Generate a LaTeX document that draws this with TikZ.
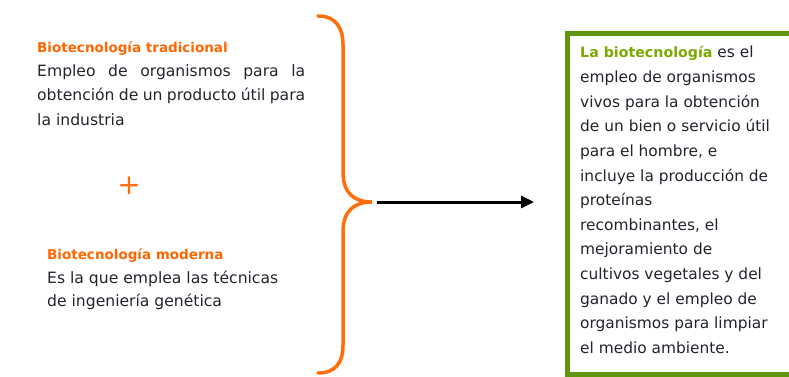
\documentclass[tikz,border=0pt]{standalone}
\usepackage{fontspec}
\setmainfont{DejaVu Sans}
\usetikzlibrary{arrows.meta}
\definecolor{orangeT}{RGB}{255,102,0}
\definecolor{orangeB}{RGB}{255,110,10}
\definecolor{greenB}{RGB}{98,150,10}
\definecolor{greenT}{RGB}{120,170,0}
\definecolor{bodyT}{RGB}{35,35,45}
\tikzset{
  x=1pt,y=-1pt,
  txt/.style={anchor=base west,inner sep=0pt,text=bodyT,font=\fontsize{15.6}{18}\selectfont},
  rtxt/.style={txt,font=\fontsize{15.4}{18}\selectfont},
  ttl/.style={txt,text=orangeT,font=\fontsize{13.5}{15}\selectfont\bfseries},
  brace/.style={draw=orangeB,line width=3.5pt,line cap=round},
  arrowline/.style={draw=black,line width=3pt,-{Triangle[length=13pt,width=12pt]}},
  greenbox/.style={draw=greenB,line width=5pt,inner sep=0pt}
}
\begin{document}
\begin{tikzpicture}
\useasboundingbox (0,0) rectangle (789,377);
% left block 1
\node[ttl] (t1) at (37,53) {Biotecnología tradicional};
\node[txt] (l1a) at (37,77) {\makebox[268pt][s]{Empleo de organismos para la}};
\node[txt] (l1b) at (37,101) {\makebox[268pt][s]{obtención de un producto útil para}};
\node[txt] (l1c) at (37,125) {la industria};
% plus
\node[inner sep=0pt,text=orangeB,font=\fontsize{28}{28}\selectfont] (plus) at (129,186) {+};
% left block 2
\node[ttl] (t2) at (47,259) {Biotecnología moderna};
\node[txt] (l2a) at (47,283) {Es la que emplea las técnicas};
\node[txt] (l2b) at (47,306) {de ingeniería genética};
% brace
\draw[brace] (318,16) .. controls (336,16) and (343,28) .. (343,45) -- (343,172)
  .. controls (343,193) and (354,202) .. (372,202)
  .. controls (354,202) and (343,211) .. (343,232) -- (343,345)
  .. controls (343,362) and (336,373) .. (318,373);
\coordinate (tip) at (377,202);
\coordinate (aend) at (534,202);
\draw[arrowline] (tip) -- (aend);
% green box
\node[greenbox,anchor=north west,minimum width=260pt,minimum height=341pt] (box) at (565,31) {};
\node[rtxt] (r1) at (580,58) {\textcolor{greenT}{\fontsize{14.2}{18}\selectfont\bfseries La biotecnología} es el};
\node[rtxt] (r2) at (580,82.6) {empleo de organismos};
\node[rtxt] (r3) at (580,107.2) {vivos para la obtención};
\node[rtxt] (r4) at (580,131.8) {de un bien o servicio útil};
\node[rtxt] (r5) at (580,156.4) {para el hombre, e};
\node[rtxt] (r6) at (580,181) {incluye la producción de};
\node[rtxt] (r7) at (580,205.6) {proteínas};
\node[rtxt] (r8) at (580,230.2) {recombinantes, el};
\node[rtxt] (r9) at (580,254.8) {mejoramiento de};
\node[rtxt] (r10) at (580,279.4) {cultivos vegetales y del};
\node[rtxt] (r11) at (580,304) {ganado y el empleo de};
\node[rtxt] (r12) at (580,328.6) {organismos para limpiar};
\node[rtxt] (r13) at (580,353.2) {el medio ambiente.};
\end{tikzpicture}
\end{document}
